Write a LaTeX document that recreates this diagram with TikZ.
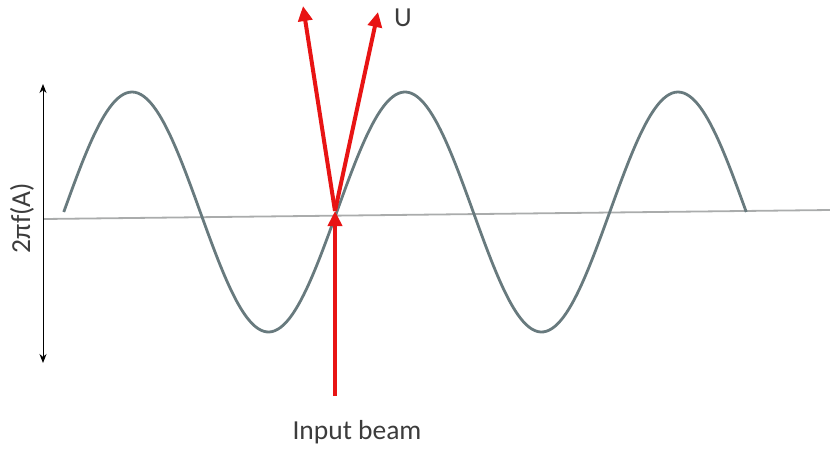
\documentclass[tikz,border=0pt]{standalone}
\usepackage{fontspec}
\setmainfont{Carlito}
\usetikzlibrary{arrows.meta}
\definecolor{wavecol}{RGB}{104,122,126}
\definecolor{axiscol}{RGB}{170,172,172}
\definecolor{beamred}{RGB}{232,20,20}
\definecolor{txt}{RGB}{60,60,60}
\tikzset{
  beam/.style={draw=beamred, line width=4pt, -{Triangle[length=15pt,width=14pt]}},
  lbl/.style={text=txt, font=\fontsize{27.5}{30}\selectfont, inner sep=0pt},
  wave/.style={draw=wavecol, line width=2.8pt},
  baseaxis/.style={draw=axiscol, line width=1.8pt},
  amprange/.style={draw=black, line width=1pt, {Stealth[length=9pt,width=7pt]}-{Stealth[length=9pt,width=7pt]}}
}
\begin{document}
\begin{tikzpicture}[x=1pt,y=-1pt]
\useasboundingbox (0,0) rectangle (830,450);
% base line
\coordinate (axL) at (44,219);
\coordinate (axR) at (830,210);
\draw[baseaxis] (axL) -- (axR);
% sine wave
\draw[wave] plot[domain=63.75:746.25, samples=240, smooth] (\x, {212-120*sin((\x-63.75)/273*360)});
% amplitude arrow
\coordinate (ampT) at (43,84);
\coordinate (ampB) at (43,363);
\draw[amprange] (ampB) -- (ampT);
\node[lbl, rotate=90] (amp) at (22,218) {2πf(A)};
% beams
\coordinate (src) at (335,396);
\coordinate (hit) at (335,211);
\coordinate (outL) at (303,6);
\coordinate (outR) at (378,12);
\draw[beam] (src) -- (hit);
\draw[beam] (hit) -- (outL);
\draw[beam] (hit) -- (outR);
\node[lbl] (U) at (403,18) {U};
\node[lbl] (inp) at (357,432) {Input beam};
\end{tikzpicture}
\end{document}
